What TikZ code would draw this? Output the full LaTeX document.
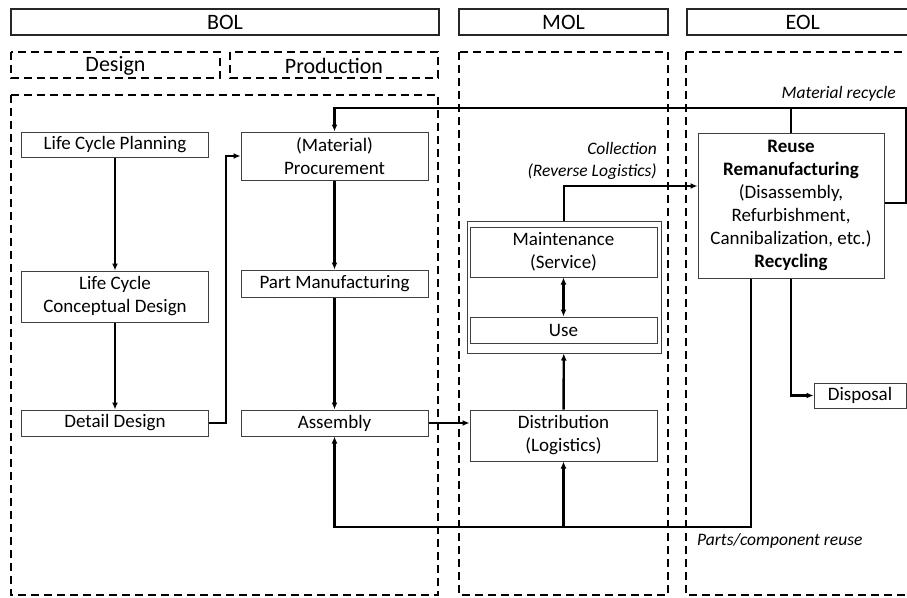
\documentclass[tikz,border=0pt]{standalone}
\usepackage{fontspec}
\setmainfont{Carlito}
\usetikzlibrary{arrows.meta,calc}

\tikzset{
	stage/.style={draw=black!85, line width=1.6pt, minimum height=26pt, inner sep=0pt, font=\fontsize{22}{26}\selectfont},
	phase/.style={draw=black, line width=2pt, dash pattern=on 8pt off 5pt},
	proc/.style={draw=black!75, line width=1pt, minimum width=187pt, inner sep=0pt, align=center, font=\fontsize{19}{23}\selectfont},
	flow/.style={line width=2.4pt, -{Latex[length=7pt,width=6pt]}},
	note/.style={inner sep=0pt, align=right, font=\fontsize{17.5}{22}\selectfont\itshape}
}

\begin{document}
\begin{tikzpicture}[x=1pt,y=-1pt]
	\useasboundingbox (0,0) rectangle (907,597);

	\node[stage, minimum width=428pt] (bol) at (225,22) {BOL};
	\node[stage, minimum width=209pt] (mol) at (563.5,22) {MOL};
	\node[stage, minimum width=250pt, anchor=west] (eol) at (686,22) {\hspace*{-18pt}EOL};

	\draw[phase] (11,52) rectangle (220,78);
	\draw[phase] (230,52) rectangle (438,78);
	\node[font=\fontsize{22}{26}\selectfont] (design) at (115.5,66) {Design};
	\node[font=\fontsize{22}{26}\selectfont] (production) at (334,66) {Production};
	\draw[phase] (11,95) rectangle (438,595);
	\draw[phase] (459,52) rectangle (668,595);
	\draw[phase] (686,52) rectangle (940,595);

	\node[proc, minimum height=25pt] (lcp) at (115,144.5) {Life Cycle Planning};
	\node[proc, minimum height=51pt] (lccd) at (115,296.5) {Life Cycle\\Conceptual Design};
	\node[proc, minimum height=26pt] (dd) at (115,423) {Detail Design};
	\node[proc, minimum height=48pt] (mat) at (334.5,156) {(Material)\\Procurement};
	\node[proc, minimum height=27pt] (pm) at (334.5,283.5) {Part Manufacturing};
	\node[proc, minimum height=26pt] (asm) at (334.5,423) {Assembly};
	\node[proc, minimum width=194pt, minimum height=132pt] (serv) at (564,287) {};
	\node[proc, minimum height=50pt] (mnt) at (563.5,252) {Maintenance\\(Service)};
	\node[proc, minimum height=26pt] (use) at (563.5,330) {Use};
	\node[proc, minimum height=51pt] (dist) at (563.5,435.5) {Distribution\\(Logistics)};
	\node[proc, minimum width=186pt, minimum height=145pt] (reuse) at (791,205.5) {\textbf{Reuse}\\\textbf{Remanufacturing}\\(Disassembly,\\Refurbishment,\\Cannibalization, etc.)\\\textbf{Recycling}};
	\node[proc, minimum width=92pt, minimum height=25pt] (disp) at (860,395.5) {Disposal};

	\node[note, anchor=east] (mrlabel) at (896,94) {Material recycle};
	\node[note, anchor=east] (coll) at (657,161) {Collection\\(Reverse Logistics)};
	\node[note, anchor=west] (prlabel) at (697,541) {Parts/component reuse};

	\coordinate (mr) at (906,108);
	\coordinate (rv) at (564,186);
	\coordinate (pr) at (751,527);

	\draw[flow] (lcp) -- (lccd);
	\draw[flow] (lccd) -- (dd);
	\draw[flow] (dd.east) -- ++(17,0) |- (mat.west);
	\draw[flow] (mat) -- (pm);
	\draw[flow] (pm) -- (asm);
	\draw[flow] (asm.east) -- (asm.east -| dist.west);
	\draw[flow] (dist) -- (serv);
	\draw[flow, {Latex[length=7pt,width=6pt]}-{Latex[length=7pt,width=6pt]}] (mnt) -- (use);
	\draw[flow] (serv.north) -- (rv) -- (rv -| reuse.west);
	\draw[flow] (reuse.east |- 0,203) -| (mr) -| (mat.north);
	\draw[line width=2.4pt] (reuse.north) -- (reuse.north |- mr);
	\draw[flow] (reuse.south -| pr) -- (pr) -| (asm.south);
	\draw[flow] (dist.south |- pr) -- (dist.south);
	\draw[flow] (reuse.south) |- (disp.west);
\end{tikzpicture}
\end{document}
